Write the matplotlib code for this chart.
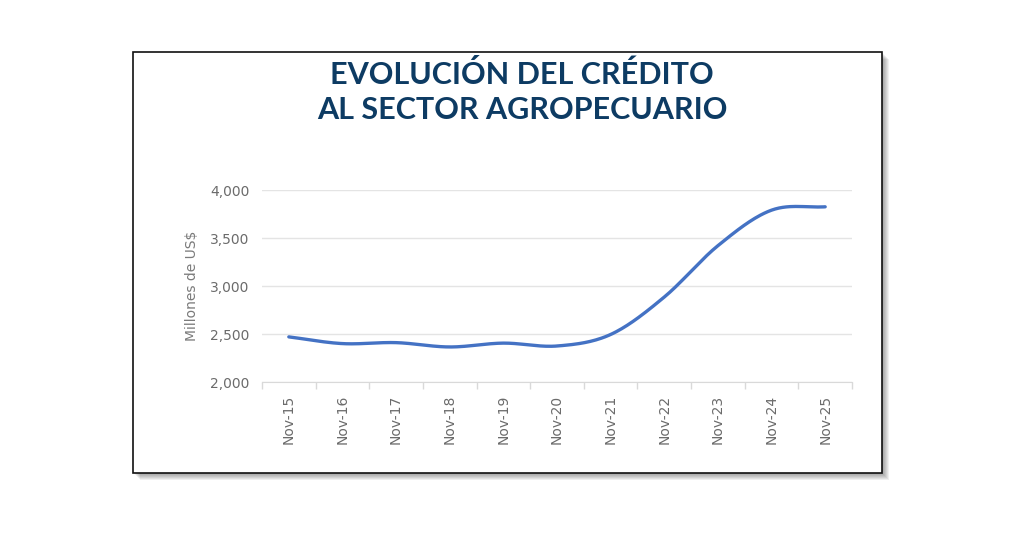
import numpy as np
import matplotlib
matplotlib.use("Agg")
from matplotlib import pyplot as plt
from matplotlib.patches import Rectangle

# data
labels = ["Nov-15", "Nov-16", "Nov-17", "Nov-18", "Nov-19", "Nov-20",
          "Nov-21", "Nov-22", "Nov-23", "Nov-24", "Nov-25"]
credito = [2470, 2400, 2410, 2365, 2405, 2375, 2495, 2885, 3420, 3790, 3825]
y_ticks = [2000, 2500, 3000, 3500, 4000]

W, H = 1024, 535


def catmull_rom(xs, ys, n=30):
    # smoothed line like the excel one
    xs = np.asarray(xs, float)
    ys = np.asarray(ys, float)
    px = np.concatenate([[2*xs[0]-xs[1]], xs, [2*xs[-1]-xs[-2]]])
    py = np.concatenate([[2*ys[0]-ys[1]], ys, [2*ys[-1]-ys[-2]]])
    outx, outy = [], []
    t = np.linspace(0, 1, n)
    for i in range(1, len(px)-2):
        for p, o in ((px, outx), (py, outy)):
            p0, p1, p2, p3 = p[i-1], p[i], p[i+1], p[i+2]
            o.extend(0.5*((2*p1) + (-p0+p2)*t + (2*p0-5*p1+4*p2-p3)*t**2
                          + (-p0+3*p1-3*p2+p3)*t**3))
    return np.array(outx), np.array(outy)


fig = plt.figure(figsize=(W/100, H/100), dpi=100)
fig.patch.set_facecolor("white")

# box with soft shadow
bx0, by0, bx1, by1 = 133, 52, 882, 473
for k in range(7, 0, -1):
    fig.patches.append(Rectangle(((bx0+k)/W, 1-(by1+k)/H), (bx1-bx0)/W, (by1-by0)/H,
                                 transform=fig.transFigure, facecolor="#000000",
                                 alpha=0.06, edgecolor="none", zorder=0))
fig.patches.append(Rectangle((bx0/W, 1-by1/H), (bx1-bx0)/W, (by1-by0)/H,
                             transform=fig.transFigure, facecolor="white",
                             edgecolor="#111111", linewidth=1.2, zorder=1))

fig.text(522/W, 1-75/H, "EVOLUCIÓN DEL CRÉDITO", ha="center", va="center",
         fontsize=22, fontweight="bold", color="#0D3B63", family="Lato")
fig.text(522/W, 1-110/H, "AL SECTOR AGROPECUARIO", ha="center", va="center",
         fontsize=22, fontweight="bold", color="#0D3B63", family="Lato")

ax = fig.add_axes([262/W, 1-382/H, (852-262)/W, (382-190)/H])
ax.set_zorder(2)
ax.patch.set_alpha(0)

x = np.arange(len(labels))
sx, sy = catmull_rom(x, credito)
ax.plot(sx, sy, color="#4472C4", linewidth=2.4, solid_capstyle="round", zorder=3)

ax.set_xlim(-0.5, len(labels)-0.5)
ax.set_ylim(2000, 4000)
ax.set_yticks(y_ticks)
ax.set_yticklabels([f"{v:,}" for v in y_ticks])
ax.set_xticks(x)
ax.set_xticklabels(labels, rotation=90)
ax.set_xticks(np.arange(-0.5, len(labels)), minor=True)
ax.tick_params(axis="x", which="major", length=0, pad=9, labelsize=10, labelcolor="#6b6b6b")
ax.tick_params(axis="x", which="minor", length=5, color="#d9d9d9", width=1)
ax.tick_params(axis="y", length=0, pad=9, labelsize=10, labelcolor="#6b6b6b")
ax.grid(axis="y", color="#e4e4e4", linewidth=1)
ax.set_axisbelow(True)
for s in ["top", "right", "left"]:
    ax.spines[s].set_visible(False)
ax.spines["bottom"].set_color("#d9d9d9")
ax.set_ylabel("Millones de US$", fontsize=10, color="#7a7a7a", labelpad=8)

fig.savefig("out.png", dpi=100)
